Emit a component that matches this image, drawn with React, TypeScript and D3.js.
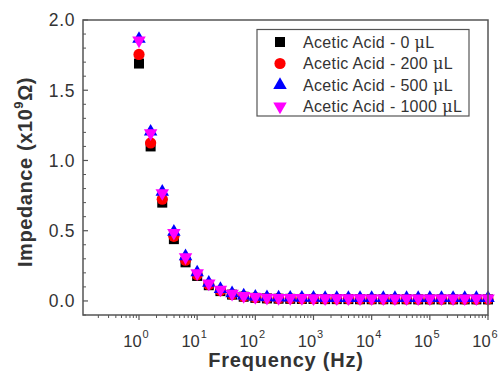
import * as d3 from "d3";

// frequency (Hz), 5 points per decade
const FREQ = [
  1, 1.585, 2.512, 3.981, 6.31, 10, 15.85, 25.12, 39.81, 63.1,
  100, 158.5, 251.2, 398.1, 631, 1000, 1585, 2512, 3981, 6310,
  10000, 15850, 25120, 39810, 63100, 100000, 158500, 251200, 398100, 631000,
  1000000,
];

// impedance (x10^9 ohm)
const Z_0 = [
  1.69, 1.10, 0.70, 0.44, 0.275, 0.178, 0.112, 0.07, 0.045, 0.03,
  0.022, 0.018, 0.016, 0.015, 0.014, 0.014, 0.013, 0.013, 0.013, 0.012,
  0.012, 0.012, 0.012, 0.012, 0.011, 0.011, 0.011, 0.011, 0.011, 0.011,
  0.011,
];
const Z_200 = [
  1.755, 1.125, 0.724, 0.46, 0.29, 0.186, 0.117, 0.074, 0.047, 0.032,
  0.024, 0.02, 0.018, 0.017, 0.016, 0.016, 0.015, 0.015, 0.015, 0.014,
  0.014, 0.014, 0.014, 0.014, 0.013, 0.013, 0.013, 0.013, 0.013, 0.013,
  0.013,
];
const Z_500 = [
  1.865, 1.205, 0.777, 0.492, 0.318, 0.203, 0.129, 0.084, 0.054, 0.038,
  0.03, 0.026, 0.024, 0.023, 0.022, 0.022, 0.021, 0.021, 0.021, 0.021,
  0.02, 0.02, 0.02, 0.02, 0.02, 0.02, 0.02, 0.02, 0.02, 0.02,
  0.02,
];
const Z_1000 = [
  1.855, 1.195, 0.768, 0.485, 0.312, 0.198, 0.125, 0.081, 0.052, 0.036,
  0.028, 0.024, 0.022, 0.021, 0.021, 0.02, 0.02, 0.02, 0.02, 0.02,
  0.019, 0.019, 0.019, 0.019, 0.019, 0.019, 0.019, 0.019, 0.019, 0.019,
  0.019,
];

const SERIES = [
  { label: "Acetic Acid - 0 ", values: Z_0, color: "#000000", shape: "square" },
  { label: "Acetic Acid - 200 ", values: Z_200, color: "#ff0000", shape: "circle" },
  { label: "Acetic Acid - 500 ", values: Z_500, color: "#0000ff", shape: "up" },
  { label: "Acetic Acid - 1000 ", values: Z_1000, color: "#ff00ff", shape: "down" },
];

const Y_MAJOR = [0, 0.5, 1.0, 1.5, 2.0];
const X_MAJOR = [1, 10, 100, 1000, 10000, 100000, 1000000];

const W = 499;
const H = 378;
const left = 83, right = 488, top = 20, bottom = 315;
const FONT = "'Liberation Sans', Arial, sans-serif";
const TXT = "#333";
const AX = "#555";

const x = d3.scaleLog().domain([0.109, 1e6]).range([left, right]);
const y = d3.scaleLinear().domain([-0.1, 2.0]).range([bottom, top]);

// minor ticks
const xMinor: number[] = [];
for (let e = -1; e < 6; e++) {
  for (let m = 2; m <= 9; m++) {
    const v = m * Math.pow(10, e);
    if (v >= 0.109 && v <= 1e6) xMinor.push(v);
  }
}
const yMinor = d3.range(-1, 21).map((i) => i / 10).filter((v) => !Y_MAJOR.some((t) => Math.abs(t - v) < 1e-6));

function Marker({ shape, color, cx, cy }: { shape: string; color: string; cx: number; cy: number }) {
  if (shape === "square") {
    const s = 10;
    return <rect x={cx - s / 2} y={cy - s / 2} width={s} height={s} fill={color} />;
  }
  if (shape === "circle") {
    return <circle cx={cx} cy={cy} r={5.6} fill={color} />;
  }
  const s = 13.5;
  const h = (s * Math.sqrt(3)) / 2;
  const dir = shape === "up" ? 1 : -1;
  const pts = [
    [cx, cy - (dir * 2 * h) / 3],
    [cx - s / 2, cy + (dir * h) / 3],
    [cx + s / 2, cy + (dir * h) / 3],
  ];
  return <polygon points={pts.map((p) => p.join(",")).join(" ")} fill={color} />;
}

export default function App() {
  return (
    <div style={{ position: "fixed", left: 0, top: 0, width: W, height: H, background: "#fff" }}>
      <svg width={W} height={H} viewBox={`0 0 ${W} ${H}`} style={{ display: "block", fontFamily: FONT }}>
        <rect width={W} height={H} fill="#fff" />

        {/* data */}
        {SERIES.map((s) => (
          <g key={s.label}>
            {s.values.map((v, i) => (
              <Marker key={i} shape={s.shape} color={s.color} cx={x(FREQ[i])} cy={y(v)} />
            ))}
          </g>
        ))}

        {/* frame */}
        <rect x={left} y={top} width={right - left} height={bottom - top} fill="none" stroke={AX} strokeWidth={1.5} />

        {/* y ticks (inward) */}
        {Y_MAJOR.map((t) => (
          <g key={t}>
            <line x1={left} x2={left + 5} y1={y(t)} y2={y(t)} stroke={AX} strokeWidth={1.2} />
            <text x={75} y={y(t)} dy="0.36em" textAnchor="end" fontSize={17.5} letterSpacing={0.6} fill={TXT}>
              {t.toFixed(1)}
            </text>
          </g>
        ))}
        {yMinor.map((t) => (
          <line key={t} x1={left} x2={left + 3} y1={y(t)} y2={y(t)} stroke={AX} strokeWidth={1} />
        ))}

        {/* x ticks (outward) */}
        {X_MAJOR.map((t, i) => (
          <g key={t}>
            <line x1={x(t)} x2={x(t)} y1={bottom} y2={bottom + 5} stroke={AX} strokeWidth={1.2} />
            <text x={x(t) - 3} y={347} textAnchor="middle" fontSize={16.5} fill={TXT}>
              10
              <tspan fontSize={11} dx={1} dy={-9}>{i}</tspan>
            </text>
          </g>
        ))}
        {xMinor.map((t) => (
          <line key={t} x1={x(t)} x2={x(t)} y1={bottom} y2={bottom + 3} stroke={AX} strokeWidth={1} />
        ))}

        {/* axis titles */}
        <text x={286} y={367} textAnchor="middle" fontSize={20} letterSpacing={0.8} fontWeight="bold" fill={TXT}>
          Frequency (Hz)
        </text>
        <text transform="translate(32,172) rotate(-90)" textAnchor="middle" fontSize={20} letterSpacing={0.6} fontWeight="bold" fill={TXT}>
          Impedance (x10
          <tspan fontSize={13} dy={-9}>9</tspan>
          <tspan dy={9}>Ω)</tspan>
        </text>

        {/* legend */}
        <rect x={257} y={29.5} width={212} height={86.5} fill="#fff" stroke={AX} strokeWidth={1.2} />
        {SERIES.map((s, i) => {
          const ly = 42 + i * 21.5;
          return (
            <g key={s.label}>
              <Marker shape={s.shape} color={s.color} cx={280} cy={ly} />
              <text x={303} y={ly} dy="0.36em" fontSize={16} letterSpacing={0.35} fill={TXT}>
                {s.label}
                <tspan fontFamily="'DejaVu Serif', serif">μ</tspan>L
              </text>
            </g>
          );
        })}
      </svg>
    </div>
  );
}
